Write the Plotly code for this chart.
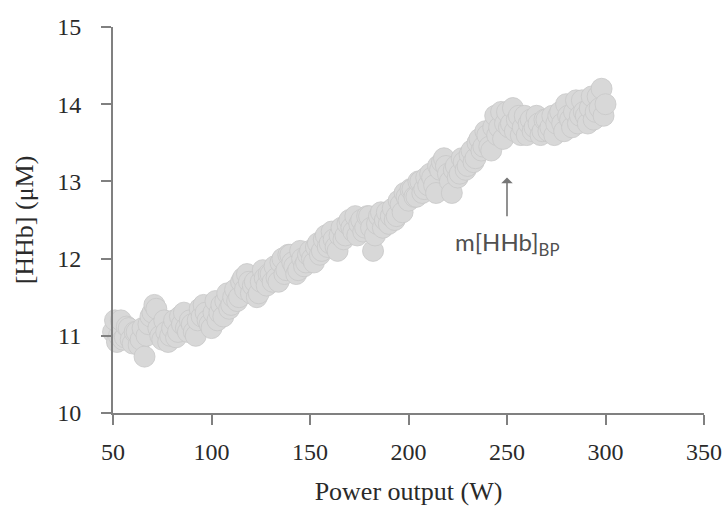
import plotly.graph_objects as go

power_w = list(range(50, 301))
hhb_um = [
    11.05, 11.2, 10.92, 11.0, 11.2, 10.95, 10.98, 11.12, 11.1, 10.95,
    10.9, 11.05, 11.05, 10.88, 10.95, 11.1, 10.73, 11.0, 11.15, 11.25,
    11.3, 11.4, 11.35, 11.1, 11.0, 10.95, 11.2, 11.05, 10.92, 11.0,
    11.1, 11.2, 10.98, 11.05, 11.25, 11.15, 11.3, 11.1, 11.05, 11.2,
    11.15, 11.05, 11.0, 11.2, 11.35, 11.25, 11.4, 11.3, 11.2, 11.15,
    11.1, 11.3, 11.45, 11.2, 11.3, 11.4, 11.25, 11.45, 11.55, 11.35,
    11.4, 11.5, 11.6, 11.45, 11.5, 11.7, 11.75, 11.6, 11.8, 11.7,
    11.55, 11.65, 11.7, 11.5, 11.55, 11.7, 11.85, 11.75, 11.65, 11.8,
    11.8, 11.7, 11.9, 11.75, 11.7, 11.95, 12.0, 11.8, 11.85, 12.05,
    12.05, 11.95, 11.9, 11.8, 11.85, 12.1, 12.0, 11.9, 11.95, 12.05,
    12.1, 12.0, 11.95, 12.15, 12.2, 12.05, 12.1, 12.25, 12.3, 12.15,
    12.2, 12.35, 12.25, 12.15, 12.1, 12.3, 12.4, 12.25, 12.3, 12.45,
    12.5, 12.4, 12.35, 12.55, 12.3, 12.45, 12.5, 12.35, 12.4, 12.55,
    12.55, 12.4, 12.1, 12.3, 12.45, 12.55, 12.6, 12.4, 12.5, 12.6,
    12.45, 12.55, 12.65, 12.5, 12.55, 12.75, 12.7, 12.6, 12.85, 12.8,
    12.75, 12.9, 12.9, 12.8, 12.8, 13.0, 13.0, 12.85, 12.9, 13.05,
    12.95, 13.1, 13.05, 12.95, 12.85, 13.2, 13.15, 13.25, 13.3, 13.2,
    13.1, 13.0, 12.85, 13.15, 13.2, 13.05, 13.1, 13.3, 13.25, 13.15,
    13.2, 13.35, 13.4, 13.25, 13.3, 13.5, 13.55, 13.4, 13.45, 13.65,
    13.6, 13.45, 13.4, 13.7, 13.85, 13.6, 13.7, 13.9, 13.55, 13.75,
    13.9, 13.7, 13.75, 13.95, 13.65, 13.8, 13.85, 13.6, 13.7, 13.85,
    13.6, 13.75, 13.8, 13.65, 13.7, 13.85, 13.75, 13.6, 13.65, 13.8,
    13.8, 13.65, 13.7, 13.85, 13.6, 13.75, 13.85, 13.9, 13.75, 13.65,
    14.0, 13.85, 13.8, 13.7, 13.9, 14.05, 13.75, 13.85, 14.05, 13.9,
    13.85, 13.75, 13.95, 14.1, 13.8, 13.9, 14.1, 13.95, 14.2, 13.85,
    14.0,
]
x_ticks = [50, 100, 150, 200, 250, 300, 350]
y_ticks = [10, 11, 12, 13, 14, 15]
bp_x = 250
bp_y = 13.05

serif = "Liberation Serif, Times New Roman, serif"
text_col = "#2a2a2a"

fig = go.Figure()
fig.add_trace(go.Scatter(
    x=power_w, y=hhb_um, mode="markers",
    marker=dict(size=21, color="#d8d8d8", line=dict(color="#c8c8c8", width=0.8)),
    cliponaxis=False, showlegend=False, hoverinfo="skip",
))

fig.add_annotation(x=bp_x, y=bp_y, ax=bp_x, ay=12.53, axref="x", ayref="y",
                   text="", showarrow=True, arrowhead=1, arrowsize=1.2,
                   arrowwidth=1.6, arrowcolor="#777777")
fig.add_annotation(x=bp_x, y=12.2, text="m[HHb]<sub>BP</sub>", showarrow=False,
                   font=dict(family="Lato, Open Sans, sans-serif", size=24, color="#505050"))

axis_common = dict(
    showgrid=False, zeroline=False, showline=True, linecolor="#808080", linewidth=2,
    ticks="outside", ticklen=10, tickwidth=2, tickcolor="#808080",
    tickfont=dict(family=serif, size=24, color=text_col), automargin=False,
)
fig.update_xaxes(range=[50, 350], tickvals=x_ticks, ticklabelstandoff=6,
                 title=dict(text="Power output (W)", font=dict(family=serif, size=26, color=text_col), standoff=18),
                 **axis_common)
fig.update_yaxes(range=[10, 15], tickvals=y_ticks, ticklabelstandoff=15,
                 title=dict(text="[HHb] (μM)", font=dict(family=serif, size=26, color=text_col), standoff=16),
                 **axis_common)
fig.update_layout(
    width=726, height=518, autosize=False,
    margin=dict(l=113, r=22, t=27, b=105),
    plot_bgcolor="white", paper_bgcolor="white",
)
# remove the default page margin so the figure fills the window exactly
fig.write_html(
    "out.html",
    config={"displayModeBar": False},
    post_script="document.body.style.margin='0';document.body.style.overflow='hidden';",
)
